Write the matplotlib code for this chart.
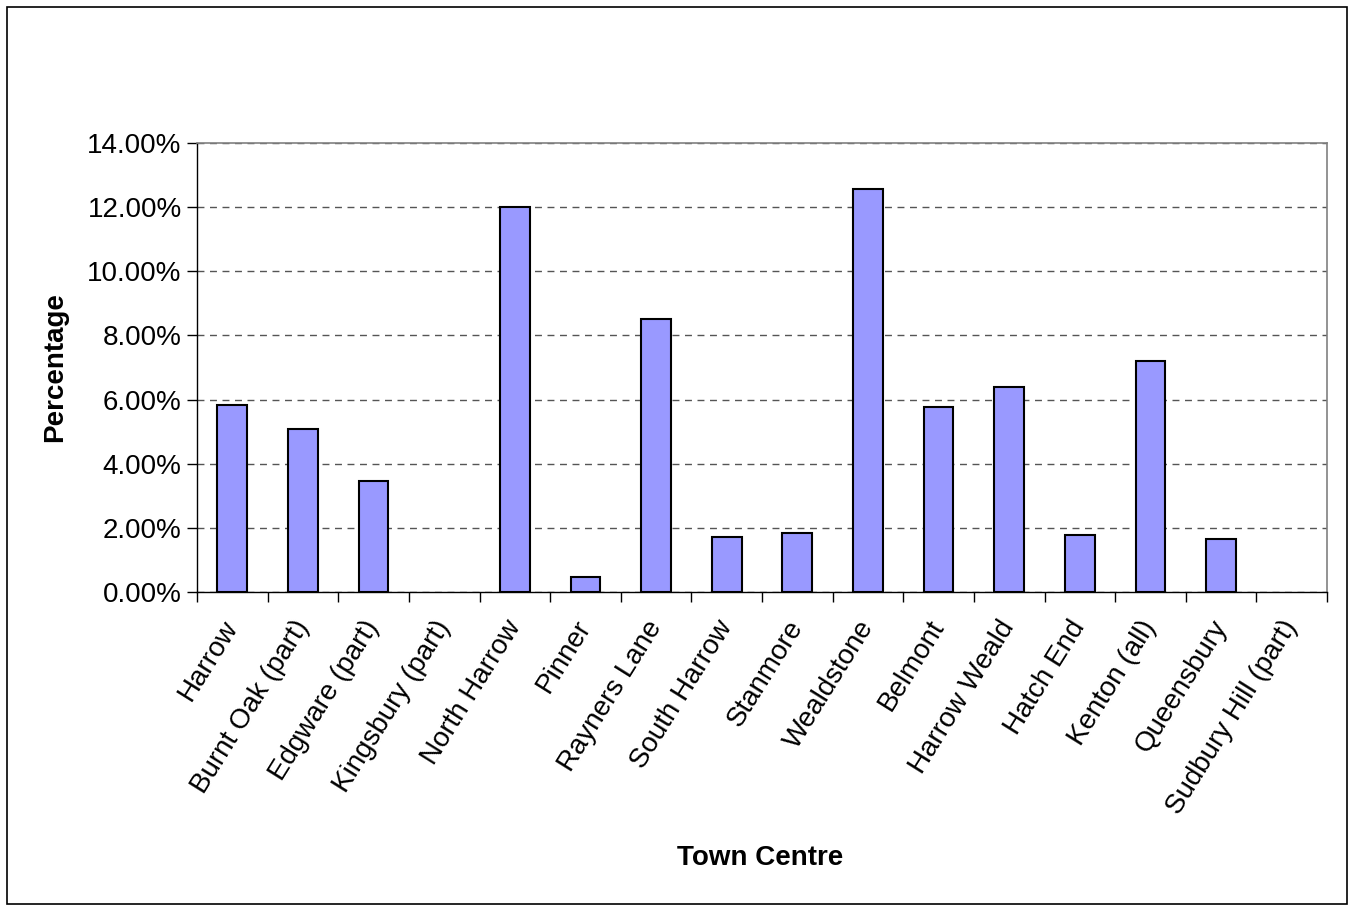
import matplotlib
matplotlib.use("Agg")
import matplotlib.pyplot as plt
from matplotlib.patches import Rectangle
from matplotlib.ticker import FuncFormatter, MultipleLocator
import numpy as np

plt.rcParams['font.family'] = ['Liberation Sans', 'DejaVu Sans']

towns = ["Harrow", "Burnt Oak (part)", "Edgware (part)", "Kingsbury (part)",
         "North Harrow", "Pinner", "Rayners Lane", "South Harrow", "Stanmore",
         "Wealdstone", "Belmont", "Harrow Weald", "Hatch End", "Kenton (all)",
         "Queensbury", "Sudbury Hill (part)"]
percentages = [5.83, 5.08, 3.46, 0.0, 12.00, 0.47, 8.51, 1.71, 1.84,
               12.57, 5.77, 6.39, 1.78, 7.20, 1.65, 0.0]

fig = plt.figure(figsize=(13.53, 9.05), dpi=100)
fig.patches.append(Rectangle((7 / 1353, 0.001), 1340 / 1353, 1 - 7 / 905 - 0.001,
                             transform=fig.transFigure, fill=False,
                             edgecolor='black', linewidth=1.2))

ax = fig.add_axes([197 / 1353, 1 - 592 / 905, 1130 / 1353, 449 / 905])
x = np.arange(len(towns))
edges = ['black' if v > 0 else 'none' for v in percentages]
ax.bar(x, percentages, width=0.42, color='#9999FF', edgecolor=edges,
       linewidth=1.5, zorder=3)

ax.set_xlim(-0.5, len(towns) - 0.5)
ax.set_ylim(0, 14)
ax.yaxis.set_major_locator(MultipleLocator(2))
ax.yaxis.set_major_formatter(FuncFormatter(lambda v, p: f"{v:.2f}%"))
ax.yaxis.grid(True, linestyle=(0, (5, 4)), color='#555555', linewidth=1.0, zorder=1)

ax.set_xticks(np.arange(-0.5, len(towns) + 0.5, 1.0))
ax.set_xticklabels([])
ax.set_xticks(x, minor=True)
ax.set_xticklabels(towns, minor=True, rotation=58, ha='right', va='center',
                   rotation_mode='anchor', fontsize=20)
ax.tick_params(axis='x', which='minor', length=0, pad=22)
ax.tick_params(axis='x', which='major', direction='out', length=7, width=1)
ax.tick_params(axis='y', direction='out', length=7, width=1, labelsize=20, pad=4)

for side in ['top', 'right']:
    ax.spines[side].set_color('#808080')
    ax.spines[side].set_linewidth(1.2)
for side in ['left', 'bottom']:
    ax.spines[side].set_color('black')
    ax.spines[side].set_linewidth(1.0)

ax.set_ylabel("Percentage", fontsize=20, fontweight='bold', labelpad=14)
fig.text(760 / 1353, 1 - 858 / 905, "Town Centre", fontsize=20,
         fontweight='bold', ha='center', va='center')

fig.savefig("out.png", dpi=100)
